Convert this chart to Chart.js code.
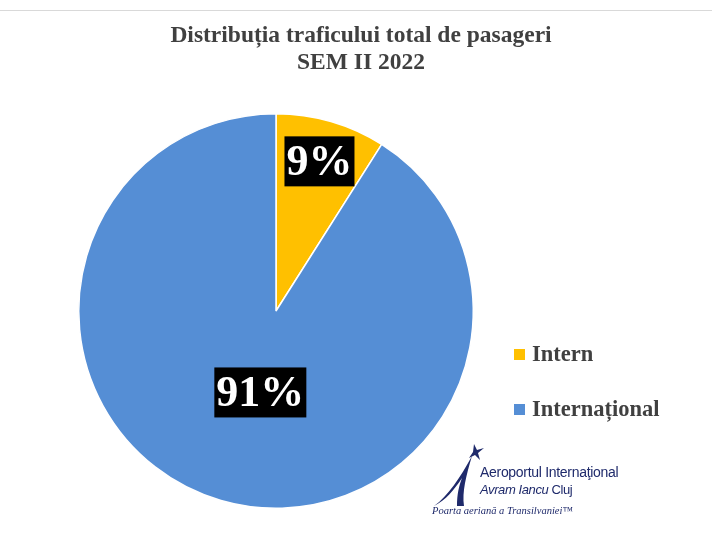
<!DOCTYPE html>
<html>
<head>
<meta charset="utf-8">
<script src="https://cdn.jsdelivr.net/npm/chart.js@4"></script>
<style>
  html, body { margin: 0; padding: 0; background: #fff; }
  .wrap { position: relative; width: 712px; height: 539px; }
  .logo { position: absolute; left: 430px; top: 440px; width: 200px; height: 90px; font-family: "Liberation Sans", Arial, sans-serif; }
  .logo .l1 { position: absolute; left: 50px; top: 24px; font-size: 14px; color: #1f2a6b; white-space: nowrap; letter-spacing: -0.3px; }
  .logo .l2 { position: absolute; left: 50px; top: 42px; font-size: 13px; color: #1f2a6b; white-space: nowrap; letter-spacing: -0.4px; }
  .logo .l3 { position: absolute; left: 2px; top: 65px; font-size: 10.5px; font-style: italic; color: #1f2a6b; white-space: nowrap; font-family: "Liberation Serif", serif; }
  .logo svg { position: absolute; left: 0; top: 0; }
</style>
</head>
<body>
<div class="wrap">
  <canvas id="myChart" width="712" height="539"></canvas>
  <div class="logo">
    <svg width="60" height="70" viewBox="0 0 60 70">
      <path d="M4 66 C 18 56, 30 38, 42 16 C 36 36, 32 52, 34 66 L 27 66 C 27 54, 29 46, 32 38 C 24 50, 16 60, 4 66 Z" fill="#1f2a6b"/>
      <path d="M44 4 L 47 10 L 54 8 L 48 13 L 50 20 L 45 15 L 39 18 L 43 12 Z" fill="#1f2a6b"/>
    </svg>
    <div class="l1">Aeroportul Internaţional</div>
    <div class="l2"><i>Avram Iancu</i> Cluj</div>
    <div class="l3">Poarta aeriană a Transilvaniei™</div>
  </div>
</div>
<script>
const labels = ['Intern', 'Internațional'];
const values = [9, 91];
const colors = ['#FFC000', '#558ED5'];
const titleLines = ['Distribuția traficului total de pasageri', 'SEM II 2022'];

// labels, title and legend drawn by hand
const extras = {
  id: 'extras',
  afterDraw(chart) {
    const c = chart.ctx;
    c.save();
    // top rule
    c.strokeStyle = '#d9d9d9';
    c.lineWidth = 1;
    c.beginPath();
    c.moveTo(0, 10.5);
    c.lineTo(712, 10.5);
    c.stroke();

    // title
    c.fillStyle = '#404040';
    c.font = 'bold 23.5px "Liberation Serif", serif';
    c.textAlign = 'center';
    c.textBaseline = 'alphabetic';
    c.fillText(titleLines[0], 361, 42);
    c.fillText(titleLines[1], 361, 69);

    // percent labels in black boxes
    const meta = chart.getDatasetMeta(0);
    const factors = [0.79, 0.43];
    const shiftX = [0, 8];
    c.font = 'bold 44px "Liberation Serif", serif';
    meta.data.forEach(function (arc, i) {
      const mid = (arc.startAngle + arc.endAngle) / 2;
      const r = arc.outerRadius * factors[i];
      const x = arc.x + Math.cos(mid) * r + shiftX[i];
      const y = arc.y + Math.sin(mid) * r;
      const txt = values[i] + '%';
      const w = c.measureText(txt).width + 4;
      const h = 50;
      c.fillStyle = '#000';
      c.fillRect(x - w / 2, y - h / 2, w, h);
      c.fillStyle = '#fff';
      c.textAlign = 'center';
      c.textBaseline = 'middle';
      c.fillText(txt, x, y + 2);
    });

    // legend
    c.font = 'bold 22.5px "Liberation Serif", serif';
    c.textAlign = 'left';
    c.textBaseline = 'middle';
    labels.forEach(function (lab, i) {
      const y = 355 + i * 55;
      c.fillStyle = colors[i];
      c.fillRect(514, y - 6, 11, 11);
      c.fillStyle = '#404040';
      c.fillText(lab, 532, y);
    });
    c.restore();
  }
};

new Chart(document.getElementById('myChart'), {
  type: 'pie',
  data: {
    labels: labels,
    datasets: [{
      data: values,
      backgroundColor: colors,
      borderColor: '#ffffff',
      borderWidth: 1.5
    }]
  },
  options: {
    responsive: false,
    animation: false,
    layout: {
      padding: { left: 78, right: 238, top: 113, bottom: 30 }
    },
    plugins: {
      legend: { display: false },
      title: { display: false },
      tooltip: { enabled: false }
    }
  },
  plugins: [extras]
});
</script>
</body>
</html>
